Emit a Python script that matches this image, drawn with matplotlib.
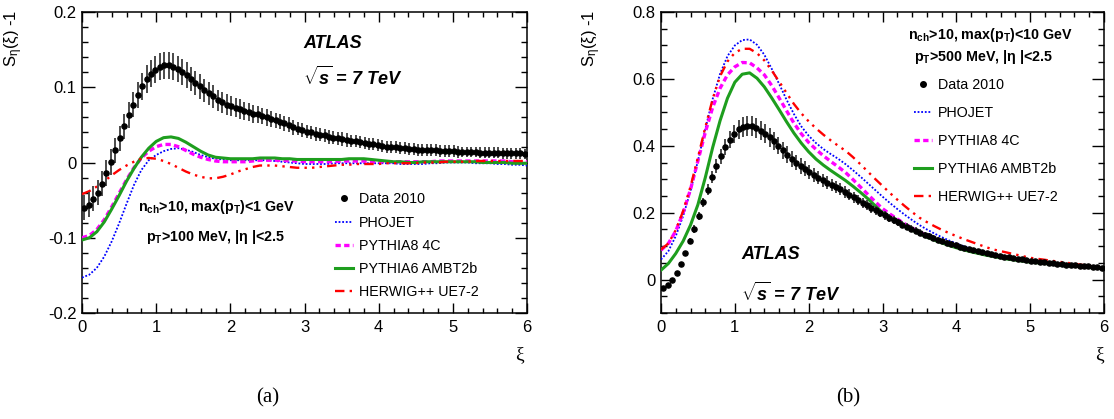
import numpy as np
import matplotlib
matplotlib.use("Agg")
import matplotlib.pyplot as plt
from matplotlib.ticker import MultipleLocator
from matplotlib.lines import Line2D

plt.rcParams['font.family'] = ['Liberation Sans', 'DejaVu Sans']
plt.rcParams['mathtext.fontset'] = 'custom'
plt.rcParams['mathtext.rm'] = 'Liberation Sans'
plt.rcParams['mathtext.bf'] = 'Liberation Sans:bold'
plt.rcParams['mathtext.it'] = 'Liberation Sans:bold:italic'

# ---------------- data ----------------
# data bin centres (0.06 wide bins on 0..6) and model-curve sampling points
xi_data = np.round(0.03 + 0.06 * np.arange(100), 2)
xi_model = np.round(0.1 * np.arange(61), 1)

# panel (a): nch>10, max(pT)<1 GeV, pT>100 MeV
data_a = [
    -0.060, -0.056, -0.048, -0.040, -0.028, -0.014, 0.001, 0.016, 0.032, 0.048,
    0.063, 0.077, 0.090, 0.101, 0.111, 0.118, 0.123, 0.127, 0.129, 0.129,
    0.127, 0.124, 0.120, 0.116, 0.111, 0.106, 0.101, 0.096, 0.092, 0.088,
    0.083, 0.080, 0.077, 0.075, 0.073, 0.071, 0.069, 0.067, 0.065, 0.064,
    0.062, 0.060, 0.058, 0.056, 0.054, 0.052, 0.050, 0.047, 0.045, 0.043,
    0.041, 0.040, 0.038, 0.037, 0.036, 0.034, 0.033, 0.032, 0.031, 0.030,
    0.029, 0.028, 0.027, 0.026, 0.025, 0.024, 0.023, 0.022, 0.021, 0.021,
    0.020, 0.019, 0.019, 0.018, 0.018, 0.017, 0.017, 0.016, 0.016, 0.016,
    0.015, 0.015, 0.015, 0.015, 0.014, 0.014, 0.014, 0.014, 0.014, 0.013,
    0.013, 0.013, 0.013, 0.013, 0.012, 0.012, 0.012, 0.012, 0.012, 0.011,
]
err_a = [
    0.017, 0.017, 0.017, 0.017, 0.017, 0.017, 0.017, 0.017, 0.017, 0.017,
    0.017, 0.017, 0.017, 0.018, 0.018, 0.018, 0.018, 0.018, 0.018, 0.018,
    0.018, 0.017, 0.017, 0.017, 0.016, 0.016, 0.016, 0.015, 0.015, 0.015,
    0.014, 0.014, 0.014, 0.013, 0.013, 0.013, 0.012, 0.012, 0.012, 0.011,
    0.011, 0.011, 0.011, 0.010, 0.010, 0.010, 0.010, 0.010, 0.009, 0.009,
    0.009, 0.009, 0.009, 0.009, 0.009, 0.009, 0.009, 0.009, 0.009, 0.009,
    0.008, 0.008, 0.008, 0.008, 0.008, 0.008, 0.008, 0.008, 0.008, 0.008,
    0.008, 0.008, 0.008, 0.008, 0.008, 0.008, 0.008, 0.008, 0.008, 0.008,
    0.008, 0.008, 0.008, 0.008, 0.008, 0.007, 0.007, 0.007, 0.007, 0.007,
    0.007, 0.007, 0.007, 0.007, 0.007, 0.007, 0.007, 0.007, 0.007, 0.007,
]
phojet_a = [
    -0.153, -0.149, -0.140, -0.125, -0.105, -0.081, -0.055, -0.030, -0.010, 0.003,
    0.010, 0.015, 0.018, 0.019, 0.017, 0.014, 0.010, 0.007, 0.005, 0.004,
    0.003, 0.003, 0.003, 0.003, 0.003, 0.003, 0.002, 0.001, 0.000, -0.001,
    -0.002, -0.002, -0.002, -0.002, -0.001, -0.001, -0.001, -0.001, -0.001, -0.001,
    -0.001, -0.001, -0.001, -0.002, -0.002, -0.002, -0.002, -0.001, -0.001, 0.000,
    0.000, 0.000, 0.000, -0.001, -0.001, -0.001, -0.002, -0.002, -0.003, -0.003,
    -0.004,
]
pythia8_a = [
    -0.100, -0.097, -0.089, -0.076, -0.059, -0.041, -0.023, -0.007, 0.006, 0.015,
    0.021, 0.024, 0.024, 0.021, 0.016, 0.011, 0.007, 0.004, 0.002, 0.001,
    0.001, 0.001, 0.001, 0.002, 0.003, 0.003, 0.003, 0.003, 0.002, 0.002,
    0.001, 0.001, 0.001, 0.001, 0.001, 0.002, 0.002, 0.002, 0.002, 0.001,
    0.001, 0.001, 0.001, 0.001, 0.001, 0.001, 0.001, 0.001, 0.002, 0.002,
    0.002, 0.002, 0.002, 0.002, 0.002, 0.002, 0.002, 0.002, 0.001, 0.001,
    0.001,
]
pythia6_a = [
    -0.103, -0.100, -0.092, -0.079, -0.062, -0.044, -0.025, -0.008, 0.007, 0.019,
    0.028, 0.033, 0.034, 0.032, 0.027, 0.021, 0.015, 0.010, 0.007, 0.006,
    0.005, 0.005, 0.005, 0.005, 0.006, 0.006, 0.006, 0.005, 0.005, 0.004,
    0.004, 0.004, 0.004, 0.004, 0.004, 0.004, 0.005, 0.005, 0.005, 0.004,
    0.003, 0.002, 0.001, 0.001, 0.000, 0.000, 0.001, 0.001, 0.001, 0.001,
    0.001, 0.001, 0.001, 0.001, 0.000, 0.000, 0.000, 0.000, -0.001, -0.001,
    -0.001,
]
herwig_a = [
    -0.042, -0.038, -0.032, -0.025, -0.017, -0.010, -0.004, 0.001, 0.005, 0.006,
    0.005, 0.002, -0.002, -0.007, -0.012, -0.016, -0.019, -0.021, -0.021, -0.019,
    -0.016, -0.012, -0.009, -0.006, -0.004, -0.004, -0.004, -0.005, -0.006, -0.007,
    -0.007, -0.007, -0.006, -0.005, -0.004, -0.003, -0.003, -0.002, -0.002, -0.002,
    -0.002, -0.001, -0.001, -0.001, -0.001, -0.001, 0.000, 0.000, 0.000, 0.001,
    0.001, 0.001, 0.001, 0.002, 0.002, 0.002, 0.002, 0.002, 0.002, 0.002,
    0.002,
]

# panel (b): nch>10, max(pT)<10 GeV, pT>500 MeV
data_b = [
    -0.024, -0.015, 0.000, 0.020, 0.047, 0.079, 0.114, 0.151, 0.189, 0.231,
    0.269, 0.306, 0.339, 0.369, 0.396, 0.418, 0.436, 0.449, 0.456, 0.459,
    0.458, 0.453, 0.445, 0.436, 0.425, 0.413, 0.400, 0.386, 0.373, 0.361,
    0.350, 0.340, 0.331, 0.322, 0.313, 0.305, 0.297, 0.290, 0.283, 0.276,
    0.270, 0.262, 0.254, 0.246, 0.238, 0.230, 0.222, 0.214, 0.207, 0.199,
    0.192, 0.185, 0.178, 0.171, 0.164, 0.158, 0.152, 0.146, 0.140, 0.134,
    0.129, 0.124, 0.119, 0.114, 0.110, 0.106, 0.102, 0.098, 0.094, 0.091,
    0.088, 0.085, 0.082, 0.079, 0.076, 0.073, 0.070, 0.068, 0.066, 0.064,
    0.062, 0.060, 0.058, 0.056, 0.055, 0.053, 0.052, 0.050, 0.049, 0.048,
    0.047, 0.045, 0.044, 0.043, 0.042, 0.041, 0.040, 0.038, 0.037, 0.036,
]
err_b = [
    0.004, 0.004, 0.004, 0.005, 0.006, 0.007, 0.009, 0.011, 0.012, 0.014,
    0.016, 0.018, 0.020, 0.022, 0.024, 0.026, 0.027, 0.028, 0.029, 0.030,
    0.030, 0.030, 0.029, 0.029, 0.028, 0.027, 0.026, 0.026, 0.025, 0.024,
    0.023, 0.023, 0.022, 0.021, 0.021, 0.020, 0.020, 0.019, 0.019, 0.018,
    0.018, 0.017, 0.017, 0.016, 0.016, 0.015, 0.015, 0.014, 0.014, 0.013,
    0.013, 0.012, 0.012, 0.011, 0.011, 0.011, 0.010, 0.010, 0.010, 0.009,
    0.009, 0.009, 0.008, 0.008, 0.008, 0.008, 0.007, 0.007, 0.007, 0.007,
    0.006, 0.006, 0.006, 0.006, 0.006, 0.006, 0.006, 0.006, 0.006, 0.006,
    0.005, 0.005, 0.005, 0.005, 0.005, 0.005, 0.005, 0.005, 0.005, 0.005,
    0.004, 0.004, 0.004, 0.004, 0.004, 0.004, 0.004, 0.004, 0.004, 0.004,
]
phojet_b = [
    0.060, 0.085, 0.130, 0.190, 0.265, 0.355, 0.450, 0.540, 0.615, 0.668,
    0.700, 0.716, 0.718, 0.702, 0.672, 0.630, 0.585, 0.538, 0.495, 0.458,
    0.430, 0.408, 0.390, 0.375, 0.361, 0.345, 0.327, 0.308, 0.288, 0.268,
    0.248, 0.229, 0.211, 0.194, 0.178, 0.163, 0.150, 0.138, 0.127, 0.117,
    0.108, 0.100, 0.093, 0.086, 0.080, 0.075, 0.070, 0.066, 0.062, 0.058,
    0.055, 0.052, 0.049, 0.047, 0.045, 0.043, 0.041, 0.039, 0.037, 0.036,
    0.034,
]
pythia8_b = [
    0.088, 0.108, 0.145, 0.200, 0.270, 0.355, 0.440, 0.515, 0.572, 0.612,
    0.636, 0.649, 0.648, 0.633, 0.612, 0.580, 0.543, 0.505, 0.468, 0.436,
    0.410, 0.389, 0.370, 0.353, 0.337, 0.320, 0.299, 0.277, 0.255, 0.233,
    0.212, 0.196, 0.181, 0.167, 0.154, 0.142, 0.132, 0.122, 0.114, 0.106,
    0.099, 0.092, 0.086, 0.081, 0.076, 0.072, 0.068, 0.064, 0.060, 0.057,
    0.054, 0.052, 0.049, 0.047, 0.045, 0.043, 0.041, 0.039, 0.037, 0.036,
    0.034,
]
pythia6_b = [
    0.028, 0.048, 0.078, 0.115, 0.163, 0.224, 0.305, 0.395, 0.475, 0.542,
    0.590, 0.614, 0.618, 0.602, 0.576, 0.543, 0.508, 0.472, 0.438, 0.408,
    0.382, 0.360, 0.342, 0.326, 0.311, 0.296, 0.279, 0.261, 0.242, 0.221,
    0.200, 0.186, 0.173, 0.160, 0.148, 0.137, 0.127, 0.118, 0.110, 0.102,
    0.095, 0.089, 0.083, 0.078, 0.073, 0.069, 0.065, 0.061, 0.058, 0.055,
    0.052, 0.050, 0.048, 0.046, 0.044, 0.042, 0.040, 0.038, 0.036, 0.035,
    0.033,
]
herwig_b = [
    0.090, 0.108, 0.148, 0.205, 0.278, 0.365, 0.455, 0.540, 0.608, 0.652,
    0.678, 0.690, 0.690, 0.677, 0.655, 0.625, 0.592, 0.558, 0.525, 0.497,
    0.473, 0.452, 0.433, 0.416, 0.400, 0.385, 0.366, 0.345, 0.323, 0.301,
    0.280, 0.259, 0.239, 0.220, 0.202, 0.185, 0.172, 0.160, 0.149, 0.139,
    0.130, 0.121, 0.113, 0.105, 0.097, 0.090, 0.085, 0.080, 0.075, 0.070,
    0.065, 0.062, 0.059, 0.056, 0.053, 0.050, 0.047, 0.044, 0.041, 0.038,
    0.035,
]

labels = ["Data 2010", "PHOJET", "PYTHIA8 4C", "PYTHIA6 AMBT2b", "HERWIG++ UE7-2"]

# ---------------- figure ----------------
W, H = 1114, 419
fig = plt.figure(figsize=(W / 100, H / 100), dpi=100)


def fx(px):
    return px / W


def fy(py):
    return 1 - py / H


styles = {
    "PHOJET": dict(color="#0000ff", lw=1.3, ls=(0, (1, 1))),
    "PYTHIA8 4C": dict(color="#ff00ff", lw=2.4, ls=(0, (1.6, 1.0))),
    "PYTHIA6 AMBT2b": dict(color="#1e9e1e", lw=2.2, ls="-"),
    "HERWIG++ UE7-2": dict(color="#ff0000", lw=1.7, ls=(0, (4, 2.2, 1, 2.2, 1, 2.2, 1, 2.2))),
}

LEG_FS = 10.3
ANN_FS = 10.3
ATLAS_FS = 13


def panel(rect, ydata, yerr, models, ylim, ymin, yticks):
    ax = fig.add_axes(rect)
    handles = []
    for name, vals in zip(labels[1:], models):
        ln, = ax.plot(xi_model, vals, label=name, zorder=3, **styles[name])
        handles.append(ln)
    ax.errorbar(xi_data, ydata, yerr=yerr, fmt="none", ecolor="#3c3c3c",
                elinewidth=1.3, capsize=0, zorder=4)
    ax.plot(xi_data, ydata, "o", color="black", ms=3.7, zorder=5)
    data_handle = Line2D([], [], marker="o", color="black", ls="none", ms=4)
    ax.set_xlim(0, 6)
    ax.set_ylim(*ylim)
    ax.xaxis.set_major_locator(MultipleLocator(1))
    ax.xaxis.set_minor_locator(MultipleLocator(0.2))
    ax.set_yticks(yticks)
    ax.yaxis.set_minor_locator(MultipleLocator(ymin))
    ax.tick_params(axis="both", which="both", direction="in", top=True, right=True,
                   labelsize=12, width=1.0)
    ax.tick_params(axis="x", which="major", length=7, pad=5)
    ax.tick_params(axis="x", which="minor", length=3.5)
    ax.tick_params(axis="y", which="major", length=9, pad=4)
    ax.tick_params(axis="y", which="minor", length=4.5)
    for s in ax.spines.values():
        s.set_linewidth(1.1)
    return ax, [data_handle] + handles


# panel (a)
axA, hA = panel([fx(82), fy(313), fx(445), (313 - 12) / H], data_a, err_a,
                [phojet_a, pythia8_a, pythia6_a, herwig_a], (-0.2, 0.2), 0.02,
                [-0.2, -0.1, 0, 0.1, 0.2])
axA.set_yticklabels(["-0.2", "-0.1", "0", "0.1", "0.2"])
axA.legend(hA, labels, loc="upper left", bbox_to_anchor=(0.5685, 0.401),
           frameon=False, fontsize=LEG_FS, handlelength=1.26, handletextpad=0.42,
           labelspacing=0.65, borderpad=0, borderaxespad=0)
axA.text(0.303, 0.352, r"n$_{\mathbf{ch}}$>10, max(p$_{\mathbf{T}}$)<1 GeV",
         transform=axA.transAxes, ha="center", va="center", fontsize=ANN_FS, fontweight="bold")
axA.text(0.299, 0.2525, r"p$_{\mathbf{T}}$>100 MeV, |η |<2.5",
         transform=axA.transAxes, ha="center", va="center", fontsize=ANN_FS, fontweight="bold")
axA.text(0.4966, 0.8937, "ATLAS", transform=axA.transAxes, ha="left", va="center",
         fontsize=ATLAS_FS, fontweight="bold", style="italic")
axA.text(0.4966, 0.784, r"$\sqrt{s}$ = 7 TeV", transform=axA.transAxes, ha="left",
         va="center", fontsize=ATLAS_FS, fontweight="bold", style="italic")

# panel (b)
axB, hB = panel([fx(661), fy(313), fx(443), (313 - 12) / H], data_b, err_b,
                [phojet_b, pythia8_b, pythia6_b, herwig_b], (-0.1, 0.8), 0.05,
                [0, 0.2, 0.4, 0.6, 0.8])
axB.set_yticklabels(["0", "0.2", "0.4", "0.6", "0.8"])
axB.legend(hB, labels, loc="upper left", bbox_to_anchor=(0.571, 0.78),
           frameon=False, fontsize=LEG_FS, handlelength=1.26, handletextpad=0.42,
           labelspacing=0.97, borderpad=0, borderaxespad=0)
axB.text(0.744, 0.9236, r"n$_{\mathbf{ch}}$>10, max(p$_{\mathbf{T}}$)<10 GeV",
         transform=axB.transAxes, ha="center", va="center", fontsize=ANN_FS, fontweight="bold")
axB.text(0.727, 0.8505, r"p$_{\mathbf{T}}$>500 MeV, |η |<2.5",
         transform=axB.transAxes, ha="center", va="center", fontsize=ANN_FS, fontweight="bold")
axB.text(0.1806, 0.1927, "ATLAS", transform=axB.transAxes, ha="left", va="center",
         fontsize=ATLAS_FS, fontweight="bold", style="italic")
axB.text(0.1806, 0.0664, r"$\sqrt{s}$ = 7 TeV", transform=axB.transAxes, ha="left",
         va="center", fontsize=ATLAS_FS, fontweight="bold", style="italic")

# axis labels and panel captions
for xl, yl_x, cap, capx in [(519, 14, "(a)", 268), (1099, 592, "(b)", 848)]:
    fig.text(fx(xl), fy(355), "ξ", ha="center", va="center", fontsize=14,
             family=["Liberation Serif", "DejaVu Serif"])
    fig.text(fx(yl_x), fy(10), r"S$_{\mathrm{η}}$(ξ) -1", rotation=90, ha="center",
             va="top", fontsize=12)
    fig.text(fx(capx), fy(398), cap, ha="center", va="center", fontsize=15,
             family=["Liberation Serif", "DejaVu Serif"])

fig.savefig("out.png", dpi=100)
